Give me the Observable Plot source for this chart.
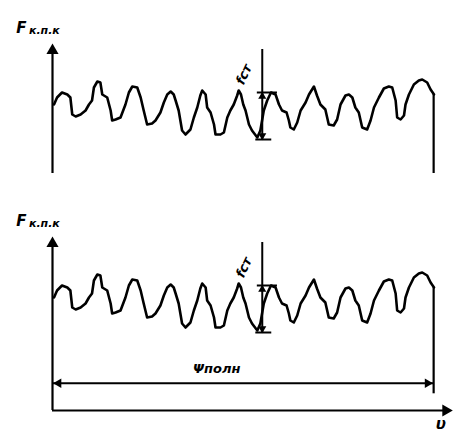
<!DOCTYPE html>
<html>
<head>
<meta charset="utf-8">
<script src="https://cdn.jsdelivr.net/npm/d3@7"></script>
<script src="https://cdn.jsdelivr.net/npm/@observablehq/plot@0.6"></script>
<style>
  html, body { margin: 0; padding: 0; background: #fff; }
  #chart { width: 454px; height: 434px; }
</style>
</head>
<body>
<div id="chart"></div>
<script>
// Angle of rotation (0..100 = full revolution) and contact force trace
const angle = [0.4,1.2,2.5,3.9,4.7,5.2,6.1,7.4,8.7,9.6,10.4,10.9,11.8,12.6,13.1,14.4,15.3,15.7,16.6,17.9,19.2,20.1,21.0,22.3,23.2,24.0,24.9,26.2,27.1,28.4,29.3,30.2,31.1,31.9,32.4,33.2,34.1,35.0,36.3,37.2,38.1,38.9,39.4,40.3,40.7,41.6,42.5,42.9,44.2,45.1,46.0,46.8,47.7,48.6,49.0,49.6,50.2,50.8,51.7,52.5,53.9,54.7,55.6,56.5,57.5,58.7,59.6,60.4,61.6,62.2,62.6,63.5,64.4,65.3,66.6,67.5,68.8,69.6,70.5,71.8,72.7,74.0,74.9,75.8,77.1,78.0,78.9,79.7,80.6,81.5,82.8,83.7,84.6,85.9,87.2,88.5,89.4,90.3,90.7,91.6,92.5,92.9,93.8,95.1,96.4,97.3,98.6,99.5,100.4];
const force = [113,120,125,123,120,103,101,103,107,113,117,130,136,135,123,120,107,97,98,100,113,125,131,130,120,107,93,94,97,105,115,123,126,123,117,107,87,83,88,100,110,122,127,123,110,105,93,83,83,85,100,107,113,122,127,123,113,107,93,87,80,87,107,117,125,123,113,107,105,97,90,88,95,107,115,123,131,122,113,108,93,92,98,113,122,123,120,110,105,90,88,97,110,120,129,131,130,117,100,98,102,113,123,133,137,138,135,128,123];

// Annotation values
const fullAngle = 100.3;     // Ψполн
const yAxisTop = 170;
const xAxisEnd = 105;
const cropForce = 44;        // lowest force visible in the upper (cropped) panel
const dimForce = 27.3;       // level of the Ψполн dimension line
const endLineLow = 16.7;
const fstAngle = 55.2;       // where the f_ст measurement is taken
const fstPeak = 125;
const fstTrough = 78;
const fstTop = 168;

const labels = {
  F: "F", sub: "к.п.к", full: "Ψполн", arg: "υ", fst: "fст"
};

const wave = angle.map((a, i) => ({a, f: force[i]}));
const font = "DejaVu Sans";

function panel(dy, full) {
  const m = [
    Plot.line(wave, {x: "a", y: "f", stroke: "black", strokeWidth: 2.6, strokeLinejoin: "round", dy}),
    Plot.ruleX([0], {y1: full ? 0 : cropForce, y2: yAxisTop - 2, stroke: "black", strokeWidth: 2.2, dy}),
    Plot.dot([0], {x: d => d, y: yAxisTop - 3, symbol: "triangle", r: 4.5, fill: "black", stroke: null, dy}),
    Plot.ruleX([fullAngle], {y1: full ? endLineLow : cropForce, y2: force[force.length - 1], stroke: "black", strokeWidth: 2.2, dy}),
    Plot.ruleX([fstAngle], {y1: fstTrough, y2: fstTop, stroke: "black", strokeWidth: 2, dy}),
    Plot.ruleY([fstPeak], {x1: fstAngle - 1.3, x2: fstAngle + 4, stroke: "black", strokeWidth: 2, dy}),
    Plot.ruleY([fstTrough], {x1: fstAngle - 1.7, x2: fstAngle + 2.5, stroke: "black", strokeWidth: 2, dy}),
    Plot.dot([fstPeak - 4], {x: fstAngle, y: d => d, symbol: "triangle", r: 3, fill: "black", stroke: null, dy}),
    Plot.dot([fstTrough + 4], {x: fstAngle, y: d => d, symbol: "triangle", r: 3, rotate: 180, fill: "black", stroke: null, dy}),
    Plot.text([labels.fst], {x: fstAngle - 4.8, y: fstPeak + 18, text: d => d, rotate: -65, fontSize: 13, fontWeight: "bold", fontStyle: "italic", fontFamily: font, dy}),
    Plot.text([labels.F], {x: -8.2, y: yAxisTop + 19, text: d => d, fontSize: 15, fontWeight: "bold", fontStyle: "italic", fontFamily: font, dy}),
    Plot.text([labels.sub], {x: -6.2, y: yAxisTop + 17, text: d => d, textAnchor: "start", fontSize: 11, fontWeight: "bold", fontStyle: "italic", fontFamily: font, dy, style: {letterSpacing: "2px"}})
  ];
  if (full) {
    m.push(
      Plot.ruleY([0], {x1: 0, x2: xAxisEnd - 1.5, stroke: "black", strokeWidth: 2.2}),
      Plot.dot([xAxisEnd - 1.5], {x: d => d, y: 0, symbol: "triangle", r: 4.5, rotate: 90, fill: "black", stroke: null}),
      Plot.ruleY([dimForce], {x1: 0, x2: fullAngle, stroke: "black", strokeWidth: 2}),
      Plot.dot([1.6], {x: d => d, y: dimForce, symbol: "triangle", r: 3.5, rotate: -90, fill: "black", stroke: null}),
      Plot.dot([fullAngle - 1.6], {x: d => d, y: dimForce, symbol: "triangle", r: 3.5, rotate: 90, fill: "black", stroke: null}),
      Plot.text([labels.full], {x: 43.2, y: dimForce + 14, text: d => d, fontSize: 13, fontWeight: "bold", fontStyle: "italic", fontFamily: font, style: {letterSpacing: "1px"}}),
      Plot.text([labels.arg], {x: 102.2, y: -13.5, text: d => d, fontSize: 15, fontWeight: "bold", fontStyle: "italic", fontFamily: font})
    );
  }
  return m;
}

const chart = Plot.plot({
  width: 454,
  height: 434,
  margin: 0,
  x: {domain: [0, 100], range: [52, 432], axis: null},
  y: {domain: [0, 170], range: [410, 240], axis: null},
  style: {background: "white", overflow: "hidden"},
  marks: [
    ...panel(-193, false),
    ...panel(0, true)
  ]
});
document.getElementById("chart").appendChild(chart);
</script>
</body>
</html>
